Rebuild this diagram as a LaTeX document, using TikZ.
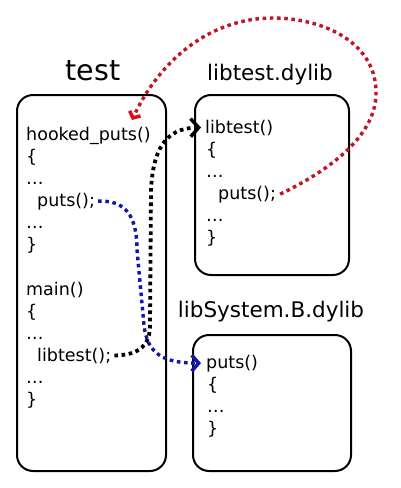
\documentclass[tikz,border=0pt]{standalone}
\usepackage{fontspec}
\setmainfont{DejaVu Sans}
\usetikzlibrary{arrows.meta}
\definecolor{hookred}{RGB}{190,22,38}
\definecolor{tipred}{RGB}{230,10,20}
\definecolor{callblue}{RGB}{20,20,165}
\tikzset{
  box/.style={draw=black, line width=2pt, rounded corners=16pt, inner sep=0pt},
  code/.style={anchor=base west, inner sep=0pt, font=\fontsize{17.5}{21}\selectfont},
  title/.style={anchor=base, inner sep=0pt, font=\fontsize{21.5}{25}\selectfont},
  bigtitle/.style={anchor=base, inner sep=0pt, font=\fontsize{28.5}{32}\selectfont},
  dotline/.style={line width=3.8pt, dash pattern=on 3.6pt off 3.6pt},
}
\begin{document}
\begin{tikzpicture}[x=1pt,y=-1pt]
\useasboundingbox (0,0) rectangle (400,488);
% boxes
\node[box, minimum width=149pt, minimum height=376pt] (testbox) at (91.5,283) {};
\node[box, minimum width=154pt, minimum height=180pt] (libtestbox) at (272,185) {};
\node[box, minimum width=158pt, minimum height=136pt] (libsysbox) at (272,403) {};
% titles
\node[bigtitle] (ttest) at (93,80) {test};
\node[title] (tlibtest) at (270,80) {libtest.dylib};
\node[title] (tlibsys) at (271,317) {libSystem.B.dylib};
% test code
\node[code] (hooked) at (26,140) {hooked\_puts()};
\node[code] (t2) at (26,162) {\{};
\node[code] (t3) at (26,184) {\dots};
\node[code] (tputs) at (37,206) {puts();};
\node[code] (t5) at (26,228) {\dots};
\node[code] (t6) at (26,250) {\}};
\node[code] (tmain) at (26,295) {main()};
\node[code] (t8) at (26,317) {\{};
\node[code] (t9) at (26,339) {\dots};
\node[code] (tcall) at (37,361) {libtest();};
\node[code] (t11) at (26,383) {\dots};
\node[code] (t12) at (26,405) {\}};
% libtest code
\node[code] (ldef) at (205,133) {libtest()};
\node[code] (l2) at (206,155) {\{};
\node[code] (l3) at (206,177) {\dots};
\node[code] (lputs) at (218,199) {puts();};
\node[code] (l5) at (206,221) {\dots};
\node[code] (l6) at (206,243) {\}};
% libSystem code
\node[code] (sdef) at (206,368) {puts()};
\node[code] (s2) at (207,390) {\{};
\node[code] (s3) at (207,412) {\dots};
\node[code] (s4) at (207,434) {\}};
% connector coordinates
\coordinate (hookin) at (132,120);
\coordinate (ldefin) at ([xshift=-4pt]ldef.west);
\coordinate (sdefin) at ([xshift=-5pt]sdef.west);
% black: libtest(); -> libtest()
\draw[dotline, black, -{Straight Barb[length=8pt,width=18pt,line width=3.5pt 0]}]
   ([xshift=3pt]tcall.east) .. controls (140,355) and (150,345) .. (150,325)
   -- (151,190) .. controls (153,150) and (165,128) .. (ldefin);
% blue: puts(); -> puts()
\draw[dotline, callblue, line width=3.4pt, -{Straight Barb[length=7pt,width=16pt,line width=3.5pt 0]}]
   ([xshift=3pt]tputs.east) .. controls (125,200) and (137,215) .. (137,250)
   -- (144,325) .. controls (147,355) and (165,363) .. (sdefin);
% red: puts(); in libtest -> hooked_puts()
\draw[dotline, hookred, line width=3.4pt, -{Straight Barb[length=5pt,width=12pt,line width=3.5pt 0,color=tipred]}]
   ([xshift=4pt]lputs.east) .. controls (330,170) and (378,135) .. (376,90)
   .. controls (374,40) and (320,18) .. (273,18)
   .. controls (210,18) and (160,60) .. (hookin);
\end{tikzpicture}
\end{document}
